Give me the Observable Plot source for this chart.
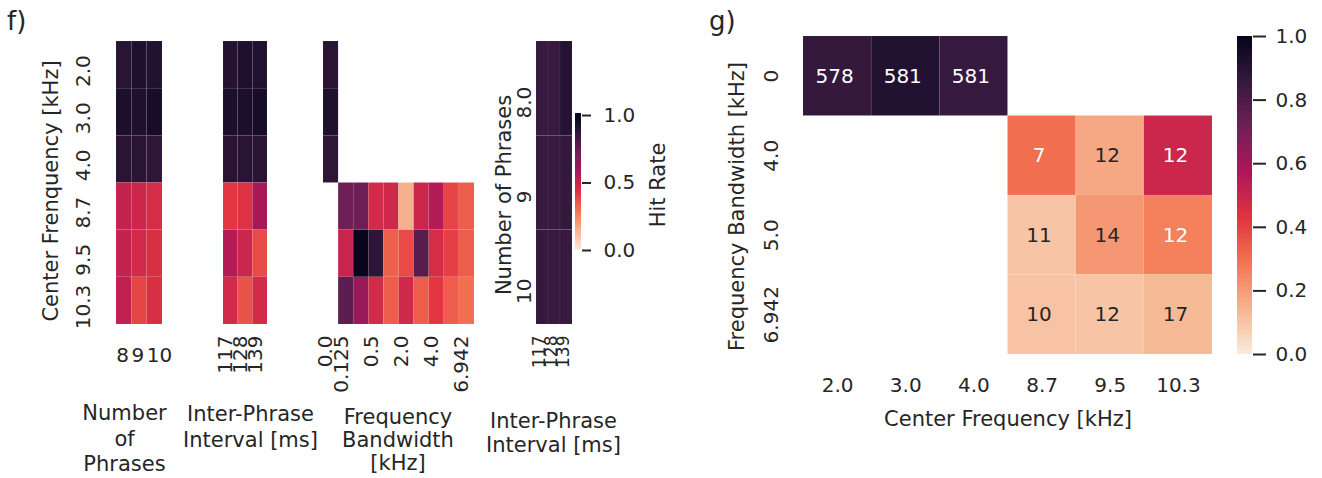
<!DOCTYPE html>
<html><head><meta charset="utf-8">
<script src="https://cdn.jsdelivr.net/npm/d3@7"></script>
<script src="https://cdn.jsdelivr.net/npm/@observablehq/plot@0.6"></script>
<style>
body{margin:0;background:#fff;}
#root{position:relative;width:1322px;height:478px;overflow:hidden;font-family:"DejaVu Sans",sans-serif;color:#262626;background:#fff;}
.panel{position:absolute;font-size:26px;line-height:26px;white-space:nowrap;}
</style></head><body><div id="root"></div>
<script>
// ---------- data ----------
const centerFreqs = ["2.0","3.0","4.0","8.7","9.5","10.3"];
const phraseCounts = ["8","9","10"];
const phraseRows = ["8.0","9","10"];
const intervals = ["117","128","139"];
const bandwidths = ["0.0","0.125","0.25","0.5","1.0","2.0","3.0","4.0","5.0","6.942"];
const bandwidthTicks = ["0.0","0.125","0.5","2.0","4.0","6.942"];

const hitByPhrases = [
  [0.89,0.92,0.91],
  [0.93,0.92,0.94],
  [0.89,0.89,0.88],
  [0.51,0.49,0.46],
  [0.51,0.47,0.45],
  [0.52,0.39,0.45]
];
const hitByInterval = [
  [0.90,0.92,0.91],
  [0.93,0.93,0.94],
  [0.89,0.89,0.89],
  [0.42,0.44,0.58],
  [0.55,0.49,0.38],
  [0.47,0.36,0.47]
];
const hitByBandwidth = [
  [0.89,null,null,null,null,null,null,null,null,null],
  [0.92,null,null,null,null,null,null,null,null,null],
  [0.88,null,null,null,null,null,null,null,null,null],
  [null,0.72,0.72,0.47,0.48,0.15,0.49,0.55,0.39,0.34],
  [null,0.50,0.99,0.88,0.33,0.38,0.77,0.46,0.40,0.34],
  [null,0.76,0.62,0.47,0.34,0.48,0.34,0.42,0.34,0.30]
];
const hitPhraseInterval = [
  [0.85,0.85,0.90],
  [0.85,0.85,0.86],
  [0.86,0.85,0.85]
];

const gCenters = ["2.0","3.0","4.0","8.7","9.5","10.3"];
const gBandwidths = ["0","4.0","5.0","6.942"];
const gHit = [
  [0.86,0.91,0.855,null,null,null],
  [null,null,null,0.30,0.17,0.49],
  [null,null,null,0.10,0.21,0.26],
  [null,null,null,0.105,0.10,0.13]
];
const gCount = [
  [578,581,581,null,null,null],
  [null,null,null,7,12,12],
  [null,null,null,11,14,12],
  [null,null,null,10,12,17]
];
const fTicks = [0, 0.5, 1.0];
const gTicks = [0, 0.2, 0.4, 0.6, 0.8, 1.0];

// ---------- colour (seaborn rocket_r) ----------
const rocketStops = ["#03051a","#35193e","#701f57","#ad1759","#e13342","#f37651","#f6b48f","#faebdd"];
const rocket = d3.piecewise(d3.interpolateRgb, rocketStops);
const hitColor = t => rocket(1 - Math.max(0, Math.min(1, t)));
const colorOpts = {type: "linear", domain: [0, 1], interpolate: hitColor};
const lum = c => {
  const {r, g, b} = d3.rgb(c);
  const f = x => { x /= 255; return x <= 0.03928 ? x / 12.92 : Math.pow((x + 0.055) / 1.055, 2.4); };
  return 0.2126 * f(r) + 0.7152 * f(g) + 0.0722 * f(b);
};

const tidy = (matrix, rows, cols, counts) =>
  matrix.flatMap((r, i) => r.map((v, j) => ({row: rows[i], col: cols[j], v, n: counts ? counts[i][j] : null})))
        .filter(d => d.v != null);

const baseStyle = {fontFamily: '"DejaVu Sans", sans-serif', fontSize: "20px", color: "#262626",
  background: "transparent", overflow: "visible", maxWidth: "none"};
const root = document.getElementById("root");
function place(svg, left) {
  svg.style.position = "absolute";
  svg.style.left = left + "px";
  svg.style.top = "0px";
  root.appendChild(svg);
}
function heatPlot({left, frameLeft, frameRight, frameTop, frameBottom, rows, cols, data, marks, yAxis = false}) {
  const svg = Plot.plot({
    width: frameRight - left + 8, height: 478,
    marginLeft: frameLeft - left, marginRight: 8, marginTop: frameTop, marginBottom: 478 - frameBottom,
    x: {domain: cols, padding: 0, round: false},
    y: {domain: rows, padding: 0, round: false, ...(yAxis ? {} : {axis: null})},
    color: colorOpts,
    style: baseStyle,
    marks: [
      Plot.cell(data, {x: "col", y: "row", fill: "v", inset: 0, stroke: "white", strokeOpacity: 0.08, strokeWidth: 0.6}),
      ...marks
    ]
  });
  place(svg, left);
}
const yTickOpts = {tickSize: 0, tickRotate: -90, textAnchor: "middle", lineAnchor: "bottom", label: null};
const xRotOpts = {tickSize: 0, tickRotate: -90, textAnchor: "end", lineAnchor: "middle", label: null};
const title = (s, o) => Plot.text([s], {text: d => d, fontSize: 21, ...o});

// ---------- f) panel ----------
heatPlot({left: 0, frameLeft: 116, frameRight: 162, frameTop: 41, frameBottom: 324,
  rows: centerFreqs, cols: phraseCounts, data: tidy(hitByPhrases, centerFreqs, phraseCounts), yAxis: true,
  marks: [
    Plot.axisX({tickSize: 0, tickPadding: 23, textAnchor: "start", dx: -8, label: null}),
    Plot.axisY({...yTickOpts, tickPadding: 27, dy: 6}),
    title("Center Frenquency [kHz]", {frameAnchor: "left", rotate: -90, lineAnchor: "top", textAnchor: "middle", dx: -73, dy: 8}),
    title("Number\nof\nPhrases", {frameAnchor: "bottom", lineAnchor: "top", textAnchor: "middle", lineHeight: 1.2, dx: -15, dy: 78})
  ]});

heatPlot({left: 175, frameLeft: 223, frameRight: 267, frameTop: 41, frameBottom: 324,
  rows: centerFreqs, cols: intervals, data: tidy(hitByInterval, centerFreqs, intervals),
  marks: [
    Plot.axisX({...xRotOpts, tickPadding: 11, dx: -5}),
    title("Inter-Phrase\nInterval [ms]", {frameAnchor: "bottom", lineAnchor: "top", textAnchor: "middle", lineHeight: 1.2, dx: 5, dy: 79})
  ]});

heatPlot({left: 290, frameLeft: 323, frameRight: 474, frameTop: 41, frameBottom: 324,
  rows: centerFreqs, cols: bandwidths, data: tidy(hitByBandwidth, centerFreqs, bandwidths),
  marks: [
    Plot.axisX({...xRotOpts, ticks: bandwidthTicks, tickPadding: 11, dx: -5}),
    title("Frequency\nBandwidth\n[kHz]", {frameAnchor: "bottom", lineAnchor: "top", textAnchor: "middle", lineHeight: 1.1, dx: -1, dy: 83})
  ]});

heatPlot({left: 470, frameLeft: 536, frameRight: 572, frameTop: 41, frameBottom: 324,
  rows: phraseRows, cols: intervals, data: tidy(hitPhraseInterval, phraseRows, intervals), yAxis: true,
  marks: [
    Plot.axisX({...xRotOpts, tickPadding: 11, dx: -3, fontSize: 17}),
    Plot.axisY({...yTickOpts, tickPadding: 6, dy: 14}),
    title("Number of Phrases", {frameAnchor: "left", rotate: -90, lineAnchor: "top", textAnchor: "middle", dx: -40, dy: 12}),
    title("Inter-Phrase\nInterval [ms]", {frameAnchor: "bottom", lineAnchor: "top", textAnchor: "middle", lineHeight: 1.15, dx: -1, dy: 86})
  ]});

// f) colourbar
const fLevels = d3.range(0, 1.015, 0.005);
place(Plot.plot({
  width: 121, height: 478, marginLeft: 15, marginRight: 100, marginTop: 113, marginBottom: 228,
  x: {domain: [0, 1], axis: null}, y: {domain: [0, 1.015]},
  color: colorOpts, style: baseStyle,
  marks: [
    Plot.rect(fLevels, {x1: 0, x2: 1, y1: d => d, y2: d => Math.min(1.015, d + 0.0055), fill: d => d + 0.0025, shapeRendering: "crispEdges"}),
    Plot.axisY({anchor: "right", ticks: fTicks, tickFormat: d3.format(".1f"), tickSize: 9, tickPadding: 13, strokeWidth: 2, label: null}),
    title("Hit Rate", {frameAnchor: "right", rotate: -90, lineAnchor: "top", textAnchor: "middle", dx: 69, dy: 3})
  ]
}), 560);

// ---------- g) panel ----------
const gData = tidy(gHit, gBandwidths, gCenters, gCount);
const isDark = d => lum(hitColor(d.v)) < 0.408;
heatPlot({left: 700, frameLeft: 803, frameRight: 1212, frameTop: 36, frameBottom: 354,
  rows: gBandwidths, cols: gCenters, data: gData, yAxis: true,
  marks: [
    Plot.text(gData.filter(isDark), {x: "col", y: "row", text: d => String(d.n), fill: "white", dx: -3}),
    Plot.text(gData.filter(d => !isDark(d)), {x: "col", y: "row", text: d => String(d.n), fill: "#262626", dx: -3}),
    Plot.axisX({tickSize: 0, tickPadding: 23, label: null}),
    Plot.axisY({...yTickOpts, tickPadding: 26}),
    title("Frequency Bandwidth [kHz]", {frameAnchor: "left", rotate: -90, lineAnchor: "top", textAnchor: "middle", dx: -74, dy: 11}),
    title("Center Frequency [kHz]", {frameAnchor: "bottom", lineAnchor: "top", textAnchor: "middle", dy: 57})
  ]});

// g) colourbar
const gLevels = d3.range(0, 1, 0.004);
place(Plot.plot({
  width: 102, height: 478, marginLeft: 17, marginRight: 70, marginTop: 36, marginBottom: 124,
  x: {domain: [0, 1], axis: null}, y: {domain: [0, 1]},
  color: colorOpts, style: baseStyle,
  marks: [
    Plot.rect(gLevels, {x1: 0, x2: 1, y1: d => d, y2: d => Math.min(1, d + 0.0045), fill: d => d + 0.002, shapeRendering: "crispEdges"}),
    Plot.axisY({anchor: "right", ticks: gTicks, tickFormat: d3.format(".1f"), tickSize: 13, tickPadding: 10, strokeWidth: 2, label: null})
  ]
}), 1220);

// panel letters
for (const [txt, left, top] of [["f)", 7, 8], ["g)", 709, 8]]) {
  const el = document.createElement("div");
  el.className = "panel";
  el.textContent = txt;
  el.style.left = left + "px";
  el.style.top = top + "px";
  root.appendChild(el);
}
</script></body></html>
